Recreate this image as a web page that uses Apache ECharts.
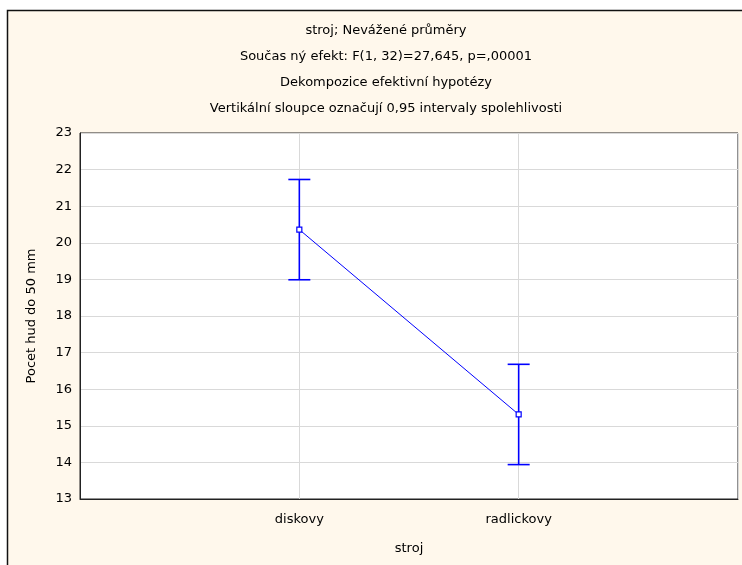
<!DOCTYPE html>
<html>
<head>
<meta charset="utf-8">
<script src="https://cdn.jsdelivr.net/npm/echarts@6/dist/echarts.min.js"></script>
<style>
  html, body { margin: 0; padding: 0; background: #ffffff; }
  #chart { width: 742px; height: 565px; }
</style>
</head>
<body>
<div id="chart"></div>
<script>
// Unweighted means of "Pocet hud do 50 mm" per machine type, with 0.95 confidence intervals
const categories = ['', 'diskovy', 'radlickovy', ''];
const groups = ['diskovy', 'radlickovy'];
const means = [20.36, 15.31];
const lower = [18.99, 13.94];
const upper = [21.73, 16.68];

const titleLines = [
  'stroj; Nevážené průměry',
  'Součas ný efekt: F(1, 32)=27,645, p=,00001',
  'Dekompozice efektivní hypotézy',
  'Vertikální sloupce označují 0,95 intervaly spolehlivosti'
];

const FONT = '"DejaVu Sans", "Liberation Sans", sans-serif';
const FS = 13;
const BLUE = '#0000ff';

const chart = echarts.init(document.getElementById('chart'), null, { renderer: 'canvas' });

const titleGraphics = titleLines.map((t, i) => ({
  type: 'text',
  x: 386,
  y: 31 + i * 26,
  z: 5,
  style: {
    text: t,
    fill: '#000',
    font: FS + 'px ' + FONT,
    textAlign: 'center',
    textVerticalAlign: 'middle'
  }
}));

chart.setOption({
  backgroundColor: '#ffffff',
  animation: false,
  graphic: {
    elements: [
      {
        type: 'rect',
        z: -10,
        shape: { x: 7.5, y: 10.5, width: 800, height: 600 },
        style: { fill: '#fff8ec', stroke: '#111', lineWidth: 1.5 }
      }
    ].concat(titleGraphics)
  },
  grid: {
    left: 80,
    top: 133,
    right: 4,
    bottom: 66,
    show: true,
    backgroundColor: '#ffffff',
    borderColor: '#222',
    borderWidth: 1
  },
  xAxis: {
    type: 'category',
    data: categories,
    boundaryGap: false,
    name: 'stroj',
    nameLocation: 'middle',
    nameGap: 43,
    nameTextStyle: { color: '#000', fontSize: FS, fontFamily: FONT },
    axisLine: { show: true, lineStyle: { color: '#222' } },
    axisTick: { show: false },
    axisLabel: { color: '#000', fontSize: FS, fontFamily: FONT, margin: 14, interval: 0 },
    splitLine: { show: true, lineStyle: { color: '#d9d9d9', width: 1 } }
  },
  yAxis: {
    type: 'value',
    min: 13,
    max: 23,
    interval: 1,
    name: 'Pocet hud do 50 mm',
    nameLocation: 'middle',
    nameGap: 42,
    nameTextStyle: { color: '#000', fontSize: FS, fontFamily: FONT },
    axisLine: { show: true, lineStyle: { color: '#222' } },
    axisTick: { show: false },
    axisLabel: { color: '#000', fontSize: FS, fontFamily: FONT, margin: 8 },
    splitLine: { show: true, lineStyle: { color: '#d9d9d9', width: 1 } }
  },
  series: [
    {
      type: 'custom',
      name: 'CI',
      z: 3,
      data: groups.map((g, i) => [g, lower[i], upper[i]]),
      renderItem: function (params, api) {
        const x = api.value(0);
        const lo = api.coord([x, api.value(1)]);
        const hi = api.coord([x, api.value(2)]);
        const half = 11;
        const st = { stroke: BLUE, lineWidth: 1.6 };
        return {
          type: 'group',
          children: [
            { type: 'line', shape: { x1: lo[0], y1: lo[1], x2: hi[0], y2: hi[1] }, style: st },
            { type: 'line', shape: { x1: hi[0] - half, y1: hi[1], x2: hi[0] + half, y2: hi[1] }, style: st },
            { type: 'line', shape: { x1: lo[0] - half, y1: lo[1], x2: lo[0] + half, y2: lo[1] }, style: st }
          ]
        };
      }
    },
    {
      type: 'line',
      name: 'mean',
      z: 4,
      data: groups.map((g, i) => [g, means[i]]),
      symbol: 'rect',
      symbolSize: 5,
      lineStyle: { color: BLUE, width: 1 },
      itemStyle: { color: '#ffffff', borderColor: BLUE, borderWidth: 1.2 }
    }
  ]
});
</script>
</body>
</html>
